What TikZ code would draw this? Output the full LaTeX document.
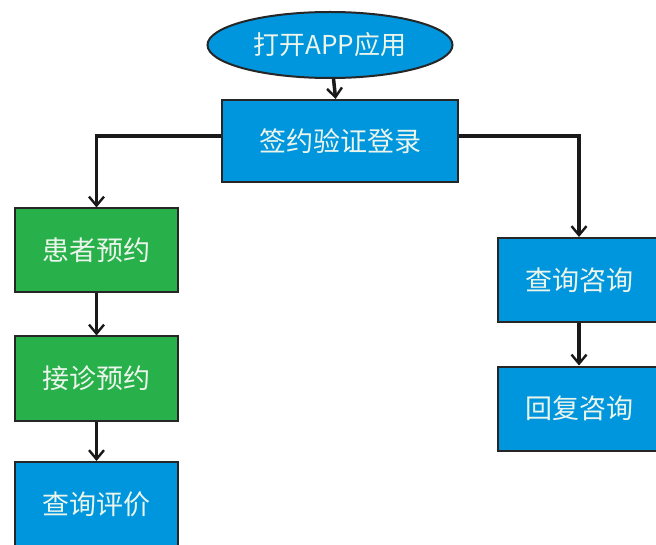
\documentclass[tikz,border=0pt]{standalone}
\usepackage{fontspec}
\setmainfont{Noto Sans CJK SC}
\usetikzlibrary{shapes.geometric,arrows.meta}
\definecolor{bblue}{RGB}{0,150,222}
\definecolor{bgreen}{RGB}{40,176,74}
\definecolor{txt}{RGB}{235,245,235}
\tikzset{
  box/.style={draw=black!85, line width=2pt, minimum width=163pt, minimum height=84pt, inner sep=0pt, text=txt, font=\fontsize{27}{27}\selectfont},
  bluebox/.style={box, fill=bblue},
  greenbox/.style={box, fill=bgreen},
  conn/.style={line width=3.5pt, draw=black!90, -{Straight Barb[length=9pt,width=15pt,line width=2.4pt]}}
}
\begin{document}
\begin{tikzpicture}[x=1pt,y=-1pt]
\useasboundingbox (0,0) rectangle (656,545);
\clip (0,0) rectangle (656,545);
\fill[white] (0,0) rectangle (656,545);
\node[ellipse, draw=black!85, line width=2pt, fill=bblue, minimum width=245pt, minimum height=66pt, inner sep=0pt, text=txt, font=\fontsize{26}{26}\selectfont] (open) at (330,45) {打开APP应用};
\node[bluebox, minimum width=236pt, minimum height=82pt] (login) at (340,141) {签约验证登录};
\node[greenbox] (p1) at (96.5,250.5) {患者预约};
\node[greenbox] (p2) at (96.5,378.5) {接诊预约};
\node[bluebox] (p3) at (96.5,504) {查询评价};
\node[bluebox] (q1) at (579,280) {查询咨询};
\node[bluebox] (q2) at (579,408.5) {回复咨询};
\draw[conn] (open) -- (login);
\draw[conn] (login.west |- 0,136) -| (p1.north);
\draw[conn] (login.east |- 0,136) -| (q1.north);
\draw[conn] (p1) -- (p2);
\draw[conn] (p2) -- (p3);
\draw[conn] (q1) -- (q2);
\end{tikzpicture}
\end{document}
